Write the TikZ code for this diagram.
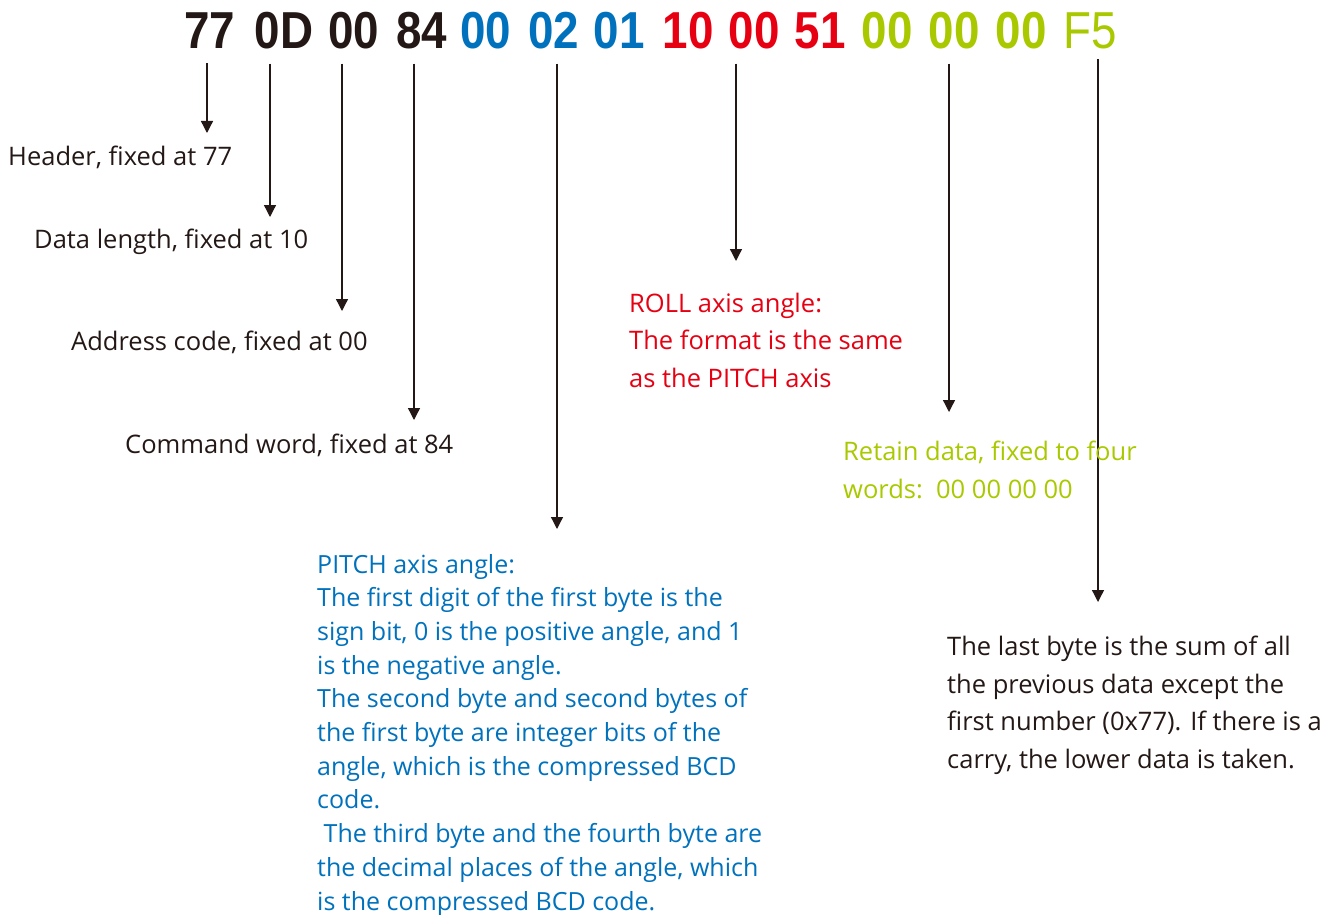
\documentclass[tikz,border=0pt]{standalone}
\usepackage{fontspec}
\setmainfont{Open Sans}
\newfontfamily\hexfont[FakeStretch=0.88]{Liberation Sans}
\usetikzlibrary{arrows.meta}
\definecolor{ink}{RGB}{35,24,21}
\definecolor{hexblue}{RGB}{0,113,188}
\definecolor{hexred}{RGB}{230,0,18}
\definecolor{hexgreen}{RGB}{170,200,0}

\begin{document}
\begin{tikzpicture}[x=1pt,y=-1pt,
    byte/.style={inner sep=0pt,font=\hexfont\bfseries\fontsize{52}{52}\selectfont},
    note/.style={inner sep=0pt,anchor=base west,align=left,font=\fontsize{25.5}{37.5}\selectfont},
    arr/.style={draw=ink,line width=1.3pt,-{Triangle[width=12pt,length=12pt]},shorten <=14pt}]
            \useasboundingbox (0,0) rectangle (1328,915);
            % the frame, byte by byte
            \node[byte,text=ink] (b1) at (210,31) {77};
            \node[byte,text=ink] (b2) at (284,31) {0D};
            \node[byte,text=ink] (b3) at (354,31) {00};
            \node[byte,text=ink] (b4) at (422,31) {84};
            \node[byte,text=hexblue] (b5) at (486,31) {00};
            \node[byte,text=hexblue] (b6) at (554,31) {02};
            \node[byte,text=hexblue] (b7) at (619,31) {01};
            \node[byte,text=hexred] (b8) at (688,31) {10};
            \node[byte,text=hexred] (b9) at (754,31) {00};
            \node[byte,text=hexred] (b10) at (820,31) {51};
            \node[byte,text=hexgreen] (b11) at (887,31) {00};
            \node[byte,text=hexgreen] (b12) at (954,31) {00};
            \node[byte,text=hexgreen] (b13) at (1021,31) {00};
            \node[byte,text=hexgreen,font=\hexfont\fontsize{52}{52}\selectfont] (b14) at (1090,31) {F5};
            % where the arrows stop
            \coordinate (t1) at (207,133);
            \coordinate (t2) at (270,217);
            \coordinate (t3) at (342,311);
            \coordinate (t4) at (414,420);
            \coordinate (t5) at (557,529);
            \coordinate (t6) at (736,261);
            \coordinate (t7) at (949,412);
            \coordinate (t8) at (1098,602);
            \draw[arr] (b1.south -| t1) -- (t1);
            \draw[arr] (b2.south -| t2) -- (t2);
            \draw[arr] (b3.south -| t3) -- (t3);
            \draw[arr] (b4.south -| t4) -- (t4);
            \draw[arr] (b6.south -| t5) -- (t5);
            \draw[arr] (b9.south -| t6) -- (t6);
            \draw[arr] (b12.south -| t7) -- (t7);
            \draw[arr,shorten <=10pt] (b14.south -| t8) -- (t8);
            % the notes (base = last line)
            \node[note,text=ink] (header) at (8,165) {Header, fixed at 77};
            \node[note,text=ink] (len) at (34,248) {Data length, fixed at 10};
            \node[note,text=ink] (addr) at (71,350) {Address code, fixed at 00};
            \node[note,text=ink] (cmd) at (125,453) {Command word, fixed at 84};
            \node[note,text=hexblue,font=\fontsize{25}{33.7}\selectfont] (pitch) at (317,910) {PITCH axis angle:\\
                The first digit of the first byte is the\\
                sign bit, 0 is the positive angle, and 1\\
                is the negative angle.\\
                The second byte and second bytes of\\
                the first byte are integer bits of the\\
                angle, which is the compressed BCD\\
                code.\\
                \hspace{0.26em}The third byte and the fourth byte are\\
                the decimal places of the angle, which\\
                is the compressed BCD code.};
            \node[note,text=hexred] (roll) at (629,387) {ROLL axis angle:\\The format is the same\\as the PITCH axis};
            \node[note,text=hexgreen] (keep) at (843,498) {Retain data, fixed to four\\words:\ \ 00 00 00 00};
            \node[note,text=ink] (sum) at (947,768) {The last byte is the sum of all\\
                the previous data except the\\
                first number (0x77). If there is a\\
                carry, the lower data is taken.};
        \end{tikzpicture}
\end{document}
